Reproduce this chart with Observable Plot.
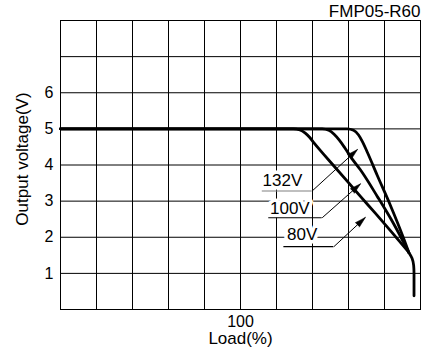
<!DOCTYPE html>
<html><head><meta charset="utf-8">
<script src="https://cdn.jsdelivr.net/npm/d3@7"></script>
<script src="https://cdn.jsdelivr.net/npm/@observablehq/plot@0.6"></script>
<style>body{margin:0;background:#fff}</style>
</head><body><div id="chart"></div>
<script>
const title = "FMP05-R60";
const xLabel = "Load(%)";
const yLabel = "Output voltage(V)";
const xTicks = [100];
const yTicks = [1, 2, 3, 4, 5, 6];
const gridLoad = [0, 20, 40, 60, 80, 100, 120, 140, 160, 180, 200];
const gridVolt = [0, 1, 2, 3, 4, 5, 6, 7, 8];

// 80V curve
const load80 = [0, 129.4, 133, 136, 138.5, 140.7, 146, 153, 160, 167, 175, 184, 193.5];
const volt80 = [5, 5, 4.97, 4.88, 4.76, 4.62, 4.31, 3.91, 3.51, 3.11, 2.66, 2.14, 1.58];
// 100V curve
const load100 = [0, 145.4, 149, 152, 155, 158, 162, 166.7, 176, 185, 193.5];
const volt100 = [5, 5, 4.96, 4.85, 4.68, 4.47, 4.17, 3.86, 3.13, 2.38, 1.58];
// 132V curve
const load132 = [0, 159.3, 162.8, 165.6, 167.8, 170.4, 176, 183.3, 190.7, 193.5];
const volt132 = [5, 5, 4.96, 4.83, 4.64, 4.36, 3.71, 2.88, 1.96, 1.58];
// shared current-limit tail
const loadTail = [193.5, 195.3, 196.2, 196.4, 196.4];
const voltTail = [1.58, 1.42, 1.22, 1.0, 0.38];

// annotations
const labelText = ["132V", "100V", "80V"];
const labelX = [123.3, 127.4, 134.3];
const labelY = [3.58, 2.8, 2.08];
const underX1 = [112.1, 115.7, 124.1];
const underX2 = [139.8, 145.4, 151.9];
const underY = [3.28, 2.54, 1.74];
const tipX = [165, 166.7, 169.4];
const tipY = [4.43, 3.48, 2.55];
const underColor = ["#808080", "#000", "#000"];

const curves = [
  ...load80.map((x, i) => ({x, y: volt80[i], s: "80V"})),
  ...load100.map((x, i) => ({x, y: volt100[i], s: "100V"})),
  ...load132.map((x, i) => ({x, y: volt132[i], s: "132V"}))
];
const tail = loadTail.map((x, i) => ({x, y: voltTail[i]}));
const ann = labelText.map((t, i) => ({
  t, lx: labelX[i], ly: labelY[i], x1: underX1[i], x2: underX2[i], uy: underY[i],
  tx: tipX[i], ty: tipY[i], c: underColor[i]
}));

const W = 422, H = 353, mL = 60, mR = 2, mT = 20, mB = 44;
const sx = Plot.scale({x: {domain: [0, 200], range: [mL, W - mR]}});
const sy = Plot.scale({y: {domain: [0, 8], range: [H - mB, mT]}});
ann.forEach(a => {
  const dx = sx.apply(a.tx) - sx.apply(a.x2);
  const dy = sy.apply(a.ty) - sy.apply(a.uy);
  a.rot = Math.atan2(dx, -dy) * 180 / Math.PI;
});

const font = "'Liberation Sans', Arial, Helvetica, sans-serif";

const marks = [
  Plot.ruleX(gridLoad, {x: d => d, stroke: "#000", strokeWidth: 1}),
  Plot.ruleY(gridVolt, {y: d => d, stroke: "#000", strokeWidth: 1}),
  Plot.frame({stroke: "#000"}),
  Plot.axisY(yTicks, {tickSize: 0, tickPadding: 7, fontSize: 16, label: null}),
  Plot.axisX(xTicks, {tickSize: 0, tickPadding: 6, fontSize: 16, label: null}),
  Plot.line(curves, {x: "x", y: "y", z: "s", curve: "monotone-x", stroke: "#000", strokeWidth: 2.8, strokeLinejoin: "round"}),
  Plot.line(tail, {x: "x", y: "y", curve: "monotone-y", stroke: "#000", strokeWidth: 2.8, strokeLinejoin: "round"}),
  Plot.text(ann, {x: "lx", y: "ly", text: "t", fontSize: 17, textAnchor: "middle", lineAnchor: "middle",
    fill: "#000", stroke: "#fff", strokeWidth: 7, paintOrder: "stroke"}),
  Plot.ruleY(ann, {y: "uy", x1: "x1", x2: "x2", stroke: "c", strokeWidth: 1.2}),
  Plot.link(ann, {x1: "x2", y1: "uy", x2: "tx", y2: "ty", stroke: "#000", strokeWidth: 1}),
  Plot.vector(ann, {x: "tx", y: "ty", rotate: "rot", length: 11, r: 3, anchor: "end", shape: "spike",
    fill: "#000", stroke: "#000", strokeWidth: 0.5}),
  Plot.text([title], {text: d => d, frameAnchor: "top-right", textAnchor: "end", lineAnchor: "bottom", dy: -3.5, fontSize: 17}),
  Plot.text([xLabel], {text: d => d, frameAnchor: "bottom", textAnchor: "middle", lineAnchor: "top", dy: 22, fontSize: 17}),
  Plot.text([yLabel], {text: d => d, frameAnchor: "left", textAnchor: "middle", rotate: -90, dx: -38, dy: -6, lineAnchor: "middle", fontSize: 17})
];

const chart = Plot.plot({
  width: W, height: H,
  marginLeft: mL, marginRight: mR, marginTop: mT, marginBottom: mB,
  x: {domain: [0, 200], axis: null},
  y: {domain: [0, 8], axis: null},
  style: {fontFamily: font, fontSize: "16px", color: "#000", background: "#fff"},
  marks
});
document.getElementById("chart").appendChild(chart);
</script>
</body></html>
